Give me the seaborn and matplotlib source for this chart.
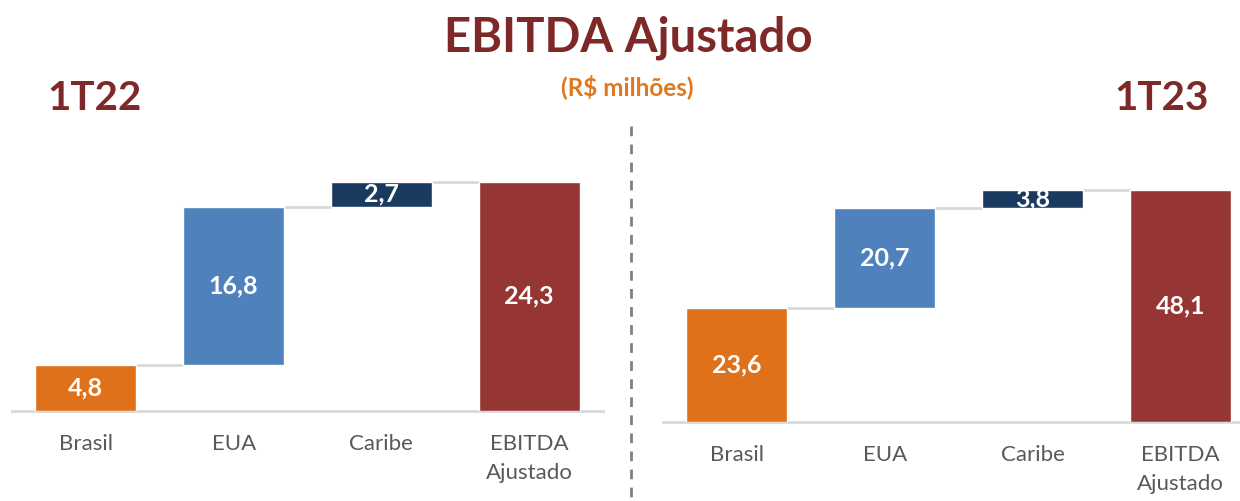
import numpy as np
import matplotlib
matplotlib.use("Agg")
import matplotlib.pyplot as plt
from matplotlib.lines import Line2D
import seaborn as sns

# dados (R$ milhões)
categorias = ["Brasil", "EUA", "Caribe", "EBITDA\nAjustado"]
valores_1t22 = [4.8, 16.8, 2.7, 24.3]
valores_1t23 = [23.6, 20.7, 3.8, 48.1]
cores = ["#DE7119", "#4F81BD", "#1B3A5F", "#963634"]

VERMELHO = "#7F2828"
LARANJA = "#E07820"
CINZA_TXT = "#595959"
CINZA_LINHA = "#D9D9D9"
FONTE = "Lato"

sns.set_theme(style="white")
plt.rcParams["font.family"] = [FONTE, "DejaVu Sans"]

W, H = 1240, 501
fig = plt.figure(figsize=(W / 100, H / 100), dpi=100)


def px_rect(x0, y_top, x1, y_bot):
    return [x0 / W, (H - y_bot) / H, (x1 - x0) / W, (y_bot - y_top) / H]


def waterfall(ax, valores, ymax, xmax):
    # bases: acumulado das parcelas, total começa no zero
    parcelas = valores[:-1]
    bases = list(np.concatenate([[0], np.cumsum(parcelas)[:-1]])) + [0]

    sns.barplot(x=categorias, y=valores, hue=categorias, palette=cores,
                width=0.683, legend=False, saturation=1, ax=ax, zorder=3)
    for patch, base in zip(ax.patches, bases):
        patch.set_y(base)

    # linhas de ligação
    w = 0.683
    tops = [b + v for b, v in zip(bases, valores)]
    for i in range(len(valores) - 1):
        ax.plot([i + w / 2, i + 1 - w / 2], [tops[i], tops[i]],
                color=CINZA_LINHA, lw=2, zorder=2, solid_capstyle="butt")

    for i, (b, v) in enumerate(zip(bases, valores)):
        ax.text(i, b + v / 2, f"{v:.1f}".replace(".", ","), ha="center",
                va="center", color="white", fontsize=18, fontweight="bold",
                zorder=4)

    ax.set_xlim(-0.5, xmax)
    ax.set_ylim(0, ymax)
    ax.set_yticks([])
    ax.set_xlabel("")
    ax.set_ylabel("")
    for s in ["top", "left", "right"]:
        ax.spines[s].set_visible(False)
    ax.spines["bottom"].set_color(CINZA_LINHA)
    ax.spines["bottom"].set_linewidth(2)
    ax.tick_params(axis="x", length=0, pad=17, labelsize=16,
                   labelcolor=CINZA_TXT)
    for lbl in ax.get_xticklabels():
        lbl.set_linespacing(1.55)
        lbl.set_verticalalignment("top")


ax1 = fig.add_axes(px_rect(12, 126, 603, 410.7))
waterfall(ax1, valores_1t22, 284.7 / 9.424, 3.5)

ax2 = fig.add_axes(px_rect(662.7, 126, 1240, 421.7))
waterfall(ax2, valores_1t23, 295.7 / 4.817, 3.4)

# títulos
fig.text(628 / W, 1 - 38 / H, "EBITDA Ajustado", ha="center", va="center",
         fontsize=34, fontweight="bold", color=VERMELHO)
fig.text(627 / W, 1 - 87 / H, "(R$ milhões)", ha="center", va="center",
         fontsize=17.5, fontweight="bold", color=LARANJA)
fig.text(95 / W, 1 - 98 / H, "1T22", ha="center", va="center",
         fontsize=29, fontweight="bold", color=VERMELHO)
fig.text(1161.7 / W, 1 - 98 / H, "1T23", ha="center", va="center",
         fontsize=29, fontweight="bold", color=VERMELHO)

# separador tracejado
fig.add_artist(Line2D([630.7 / W, 630.7 / W], [1 - 126 / H, 0],
                      color="#808080", lw=2, linestyle=(0, (3.5, 3))))

fig.savefig("out.png", dpi=100, facecolor="white")
